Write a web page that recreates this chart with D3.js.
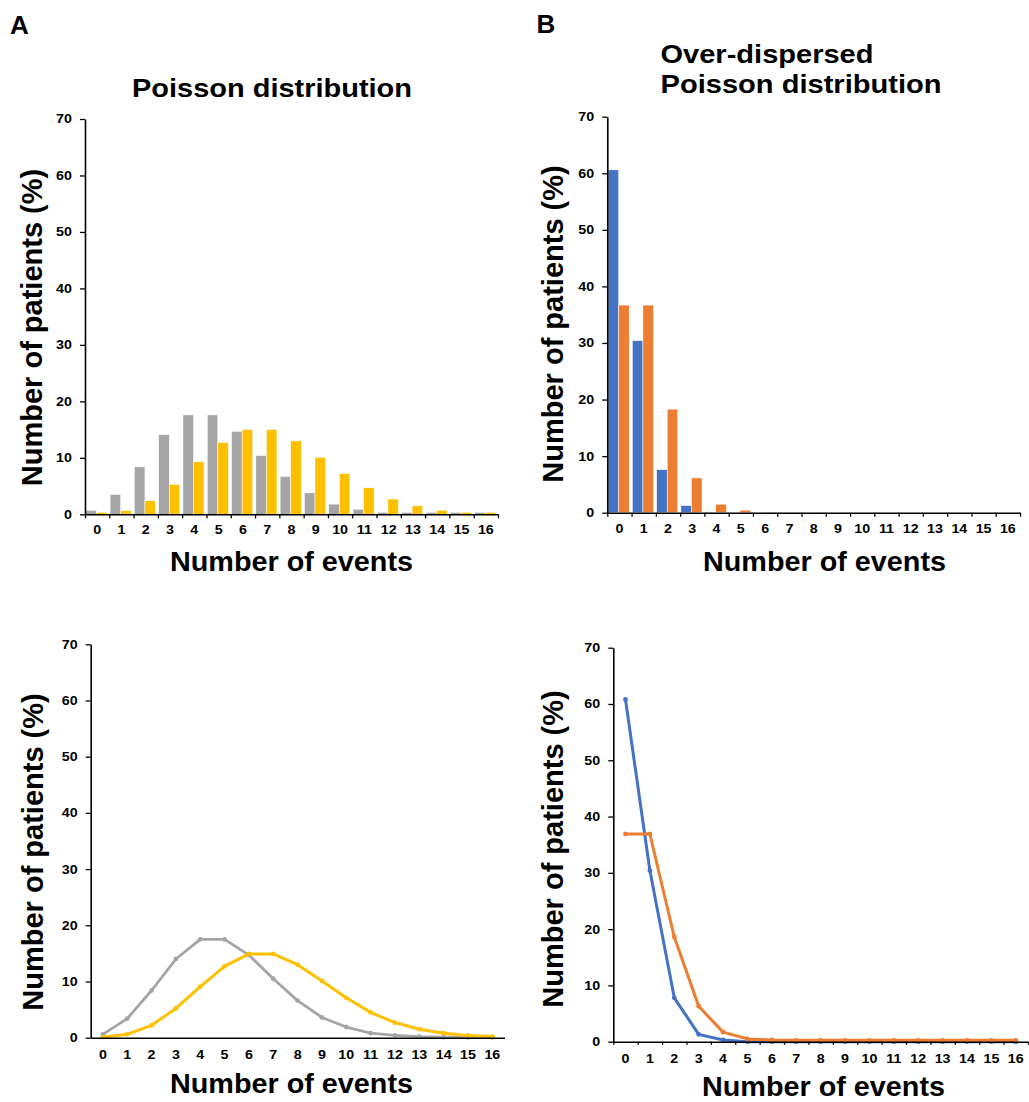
<!DOCTYPE html>
<html><head><meta charset="utf-8">
<script src="https://cdn.jsdelivr.net/npm/d3@7"></script>
<style>
body{margin:0;background:#fff}
svg{display:block}
text{font-family:"Liberation Sans",Arial,Helvetica,sans-serif;font-weight:bold;fill:#000}
</style>
</head><body>
<svg id="c" width="1029" height="1102"></svg>
<script>
// ---------- data ----------
const categories = ["0","1","2","3","4","5","6","7","8","9","10","11","12","13","14","15","16"];
const yTicks = [0,10,20,30,40,50,60,70];

// Panel A top (bars)
const barGray   = [0.7, 3.5, 8.4, 14.1, 17.6, 17.6, 14.7, 10.4, 6.7, 3.8, 1.8, 0.9, 0.35, 0.35, 0.35, 0.35, 0.35];
const barYellow = [0.35, 0.65, 2.4, 5.3, 9.3, 12.7, 15.0, 15.0, 13.0, 10.1, 7.2, 4.7, 2.7, 1.5, 0.7, 0.35, 0.35];
// Panel B top (bars)
const barBlue   = [60.6, 30.4, 7.6, 1.25, 0.05, 0, 0, 0, 0, 0, 0, 0, 0, 0, 0, 0, 0];
const barOrange = [36.7, 36.7, 18.3, 6.15, 1.5, 0.45, 0.08, 0.05, 0.05, 0.05, 0, 0, 0, 0, 0, 0, 0];
// Panel A bottom (lines)
const lineGray   = [0.6, 3.4, 8.4, 14.0, 17.5, 17.5, 14.7, 10.5, 6.6, 3.6, 1.9, 0.8, 0.4, 0.2, 0.1, 0.05, 0.05];
const lineYellow = [0.1, 0.6, 2.2, 5.2, 9.1, 12.7, 14.9, 14.9, 13.0, 10.1, 7.1, 4.5, 2.7, 1.5, 0.8, 0.4, 0.2];
// Panel B bottom (lines)
const lineBlue   = [60.8, 30.4, 7.8, 1.3, 0.3, 0, 0, 0, 0, 0, 0, 0, 0, 0, 0, 0, 0];
const lineOrange = [36.9, 36.9, 18.6, 6.3, 1.7, 0.5, 0.3, 0.25, 0.25, 0.25, 0.25, 0.25, 0.25, 0.25, 0.25, 0.25, 0.25];

const COLORS = {gray:"#A5A5A5", yellow:"#FFC000", blue:"#4472C4", orange:"#ED7D31"};

const svg = d3.select("#c");

function txt(s, x, y, size, opts = {}) {
  const t = svg.append("text").text(s).attr("font-size", size);
  if (opts.rotate) {
    t.attr("transform", `translate(${x},${y}) rotate(-90)`).attr("text-anchor", "middle");
  } else {
    t.attr("x", x).attr("y", y).attr("text-anchor", opts.anchor || "start");
  }
  if (opts.width) t.attr("textLength", opts.width).attr("lengthAdjust", "spacingAndGlyphs");
  return t;
}

function panel(cfg) {
  const g = svg.append("g");
  const x = d3.scaleBand().domain(categories).range([cfg.x0, cfg.x1]).padding(0);
  const xb = d3.scaleLinear().domain([0, categories.length]).range([cfg.x0, cfg.x1]);
  const y = d3.scaleLinear().domain([0, 70]).range([cfg.yb, cfg.yt]);

  if (cfg.type === "bar") {
    const sub = d3.scaleBand().domain(cfg.series.map((d, i) => i))
      .range([0.8, x.bandwidth() - 2.4]).padding(0);
    cfg.series.forEach((s, si) => {
      g.append("g").selectAll("rect").data(s.values).join("rect")
        .attr("x", (d, i) => x(categories[i]) + sub(si))
        .attr("width", sub.bandwidth())
        .attr("y", d => y(d))
        .attr("height", d => y(0) - y(d))
        .attr("fill", s.color)
        .attr("stroke", "#fff").attr("stroke-width", 0.5);
    });
  } else {
    const cx = (d, i) => x(categories[i]) + x.bandwidth() / 2;
    cfg.series.forEach(s => {
      const line = d3.line().x(cx).y(d => y(d));
      g.append("path").datum(s.values).attr("d", line)
        .attr("fill", "none").attr("stroke", s.color).attr("stroke-width", s.width || 3)
        .attr("stroke-linejoin", "round");
      g.append("g").selectAll("circle").data(s.values).join("circle")
        .attr("cx", cx).attr("cy", d => y(d)).attr("r", 2.4).attr("fill", s.color);
    });
  }

  // y axis
  const ya = g.append("g").attr("transform", `translate(${cfg.x0},0)`)
    .call(d3.axisLeft(y).tickValues(yTicks).tickSize(5).tickSizeOuter(0).tickPadding(6.2));
  ya.select(".domain").attr("stroke", "#000").attr("stroke-width", 1.6);
  ya.selectAll(".tick line").attr("stroke", "#000").attr("stroke-width", 1.3);
  ya.selectAll(".tick text").attr("font-size", 12.2)
    .attr("transform", "scale(1.17,1)");

  // x axis labels + domain
  const xa = g.append("g").attr("transform", `translate(0,${cfg.yb})`)
    .call(d3.axisBottom(x).tickSize(0).tickSizeOuter(0).tickPadding(cfg.xpad));
  xa.select(".domain").attr("stroke", "#000").attr("stroke-width", 1.6);
  xa.selectAll(".tick text").attr("font-size", 12.2)
    .attr("transform", "scale(1.17,1)");

  if (cfg.xTickMarks) {
    const xt = g.append("g").attr("transform", `translate(0,${cfg.yb})`)
      .call(d3.axisBottom(xb).tickValues(d3.range(categories.length + 1)).tickFormat("").tickSize(cfg.tickLen).tickSizeOuter(0));
    xt.select(".domain").remove();
    xt.selectAll(".tick line").attr("stroke", "#000").attr("stroke-width", 1.3);
  }

  // axis titles
  txt("Number of events", cfg.xtX, cfg.xtY, 27, {width: 243});
  txt("Number of patients (%)", cfg.ytX, cfg.ytY, 29, {rotate: true});
}

// Panel letters and titles
txt("A", 10, 34.3, 26);
txt("B", 536.5, 33.3, 26);
txt("Poisson distribution", 132, 96.5, 25.5, {width: 280});
txt("Over-dispersed", 660.5, 63.3, 25.5, {width: 213});
txt("Poisson distribution", 660.5, 93.3, 25.5, {width: 281});

panel({type:"bar", x0:85, x1:498, yb:514.3, yt:119, xpad:11, xTickMarks:true, tickLen:4,
  series:[{values:barGray, color:COLORS.gray},{values:barYellow, color:COLORS.yellow}],
  xtX:170, xtY:571, ytX:42, ytY:327.5});

panel({type:"bar", x0:607.3, x1:1020, yb:512.7, yt:116.7, xpad:12, xTickMarks:true, tickLen:4,
  series:[{values:barBlue, color:COLORS.blue},{values:barOrange, color:COLORS.orange}],
  xtX:703, xtY:571, ytX:563, ytY:324});

panel({type:"line", x0:90.7, x1:504.5, yb:1037.7, yt:644.3, xpad:13, xTickMarks:false,
  series:[{values:lineGray, color:COLORS.gray, width:2.8},{values:lineYellow, color:COLORS.yellow, width:3}],
  xtX:170, xtY:1093, ytX:42.7, ytY:852});

panel({type:"line", x0:613.3, x1:1028, yb:1041.7, yt:647.7, xpad:13, xTickMarks:true, tickLen:3,
  series:[{values:lineBlue, color:COLORS.blue, width:3},{values:lineOrange, color:COLORS.orange, width:3}],
  xtX:702, xtY:1096, ytX:563, ytY:849});
</script>
</body></html>
